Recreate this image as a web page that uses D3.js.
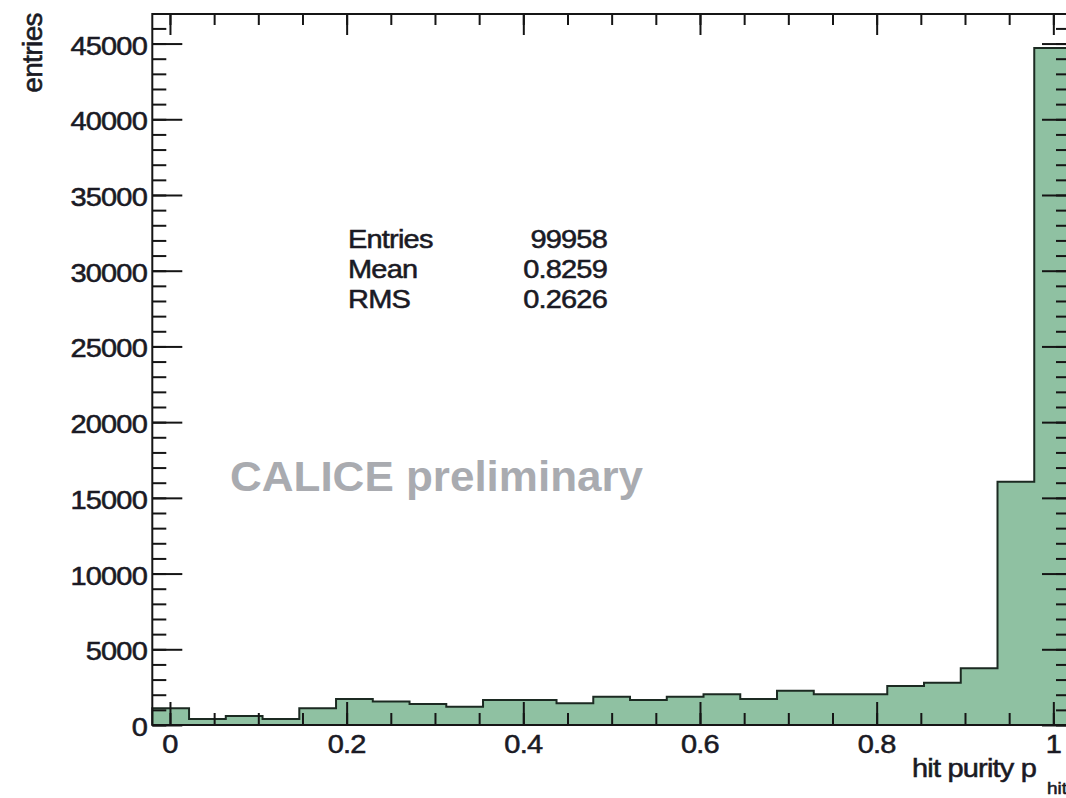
<!DOCTYPE html>
<html>
<head>
<meta charset="utf-8">
<script src="https://cdn.jsdelivr.net/npm/d3@7"></script>
<style>
  html, body { margin: 0; padding: 0; background: #fff; }
  svg { display: block; }
  text { font-family: "Liberation Sans", Arial, Helvetica, sans-serif; fill: #1a1a24; }
  text.ink { stroke: #1a1a24; stroke-width: 0.6px; }
</style>
</head>
<body>
<svg id="chart" width="1066" height="798"></svg>
<script>
// Histogram of hit purity: 25 bins between -0.02 and 1.02
const binLow = -0.02;
const binHigh = 1.02;
const binCounts = [1100, 400, 600, 400, 1100, 1717, 1560, 1387, 1210, 1651,
                   1651, 1431, 1872, 1651, 1872, 2025, 1717, 2267, 2025, 2025,
                   2576, 2796, 3743, 16070, 44700];
const yMax = 46952;

const xMajorTicks = [0, 0.2, 0.4, 0.6, 0.8, 1];
const xTickLabels = ["0", "0.2", "0.4", "0.6", "0.8", "1"];
const xMinorTicks = d3.range(0, 21).map(i => i * 0.05);
const yMajorTicks = [0, 5000, 10000, 15000, 20000, 25000, 30000, 35000, 40000, 45000];
const yTickLabels = ["0", "5000", "10000", "15000", "20000", "25000", "30000", "35000", "40000", "45000"];
const yMinorTicks = d3.range(0, 47).map(i => i * 1000);

const statNames = ["Entries", "Mean", "RMS"];
const statValues = ["99958", "0.8259", "0.2626"];

const svg = d3.select("#chart");

const frame = { left: 152.3, right: 1071, top: 14, bottom: 725 };
const x = d3.scaleLinear().domain([binLow, binHigh]).range([frame.left, frame.right]);
const y = d3.scaleLinear().domain([0, yMax]).range([frame.bottom, frame.top]);

const binWidth = (binHigh - binLow) / binCounts.length;
const bins = binCounts.map((c, i) => ({ x0: binLow + i * binWidth, x1: binLow + (i + 1) * binWidth, n: c }));

// Filled step outline, ROOT style
const pts = [[bins[0].x0, 0]];
bins.forEach(b => { pts.push([b.x0, b.n]); pts.push([b.x1, b.n]); });
pts.push([bins[bins.length - 1].x1, 0]);

const line = d3.line().x(d => x(d[0])).y(d => y(d[1]));
svg.append("path")
  .attr("d", line(pts) + "Z")
  .attr("fill", "#8fc1a2")
  .attr("stroke", "none");
svg.append("path")
  .attr("d", line(pts))
  .attr("fill", "none")
  .attr("stroke", "#1c2a22")
  .attr("stroke-width", 2);

// Axes: ticks point into the frame on all four sides
const tickStyle = g => {
  g.select(".domain").remove();
  g.selectAll("line").attr("stroke", "#151515").attr("stroke-width", 2);
  g.selectAll("text").remove();
};

svg.append("g").attr("transform", `translate(0,${frame.bottom})`)
  .call(d3.axisBottom(x).tickValues(xMinorTicks).tickSize(-12)).call(tickStyle);
svg.append("g").attr("transform", `translate(0,${frame.bottom})`)
  .call(d3.axisBottom(x).tickValues(xMajorTicks).tickSize(-23)).call(tickStyle);
svg.append("g").attr("transform", `translate(0,${frame.top})`)
  .call(d3.axisTop(x).tickValues(xMinorTicks).tickSize(-11)).call(tickStyle);
svg.append("g").attr("transform", `translate(0,${frame.top})`)
  .call(d3.axisTop(x).tickValues(xMajorTicks).tickSize(-21)).call(tickStyle);

svg.append("g").attr("transform", `translate(${frame.left},0)`)
  .call(d3.axisLeft(y).tickValues(yMinorTicks).tickSize(-14)).call(tickStyle);
svg.append("g").attr("transform", `translate(${frame.left},0)`)
  .call(d3.axisLeft(y).tickValues(yMajorTicks).tickSize(-30)).call(tickStyle);
svg.append("g").attr("transform", `translate(${frame.right},0)`)
  .call(d3.axisRight(y).tickValues(yMinorTicks).tickSize(-15)).call(tickStyle);
svg.append("g").attr("transform", `translate(${frame.right},0)`)
  .call(d3.axisRight(y).tickValues(yMajorTicks).tickSize(-29)).call(tickStyle);

// Frame
svg.append("rect")
  .attr("x", frame.left).attr("y", frame.top)
  .attr("width", frame.right - frame.left).attr("height", frame.bottom - frame.top)
  .attr("fill", "none").attr("stroke", "#151515").attr("stroke-width", 2);

// Text helper: vertically squashed glyphs
const sy = 0.86;
function label(px, py, str, opts = {}) {
  const t = svg.append("text")
    .attr("class", opts.plain ? null : "ink")
    .attr("transform", `translate(${px},${py}) scale(${opts.sx || 1},${opts.sy || sy})`)
    .attr("font-size", opts.size || 29)
    .attr("text-anchor", opts.anchor || "start")
    .attr("letter-spacing", opts.spacing == null ? -0.8 : opts.spacing)
    .text(str);
  if (opts.weight) t.attr("font-weight", opts.weight);
  if (opts.fill) t.style("fill", opts.fill);
  return t;
}

// Tick labels
yMajorTicks.forEach((v, i) => label(147, y(v) + 11, yTickLabels[i], { anchor: "end" }));
xMajorTicks.forEach((v, i) => label(x(v), 753, xTickLabels[i], { anchor: "middle" }));

// Axis titles
svg.append("text")
  .attr("class", "ink")
  .attr("transform", "translate(42,13) rotate(-90)")
  .attr("font-size", 28)
  .attr("letter-spacing", -0.6)
  .attr("text-anchor", "end")
  .text("entries");
label(912, 777, "hit purity p");
label(1047, 794, "hit", { size: 19, spacing: 0 });

// Statistics box
statNames.forEach((s, i) => {
  label(348, 248 + i * 29.8, s);
  label(607, 248 + i * 29.8, statValues[i], { anchor: "end" });
});

// Watermark
label(230, 491, "CALICE preliminary", { size: 44, weight: "bold", sy: 0.98, spacing: 0, plain: true, fill: "#a9abb0" });
</script>
</body>
</html>
